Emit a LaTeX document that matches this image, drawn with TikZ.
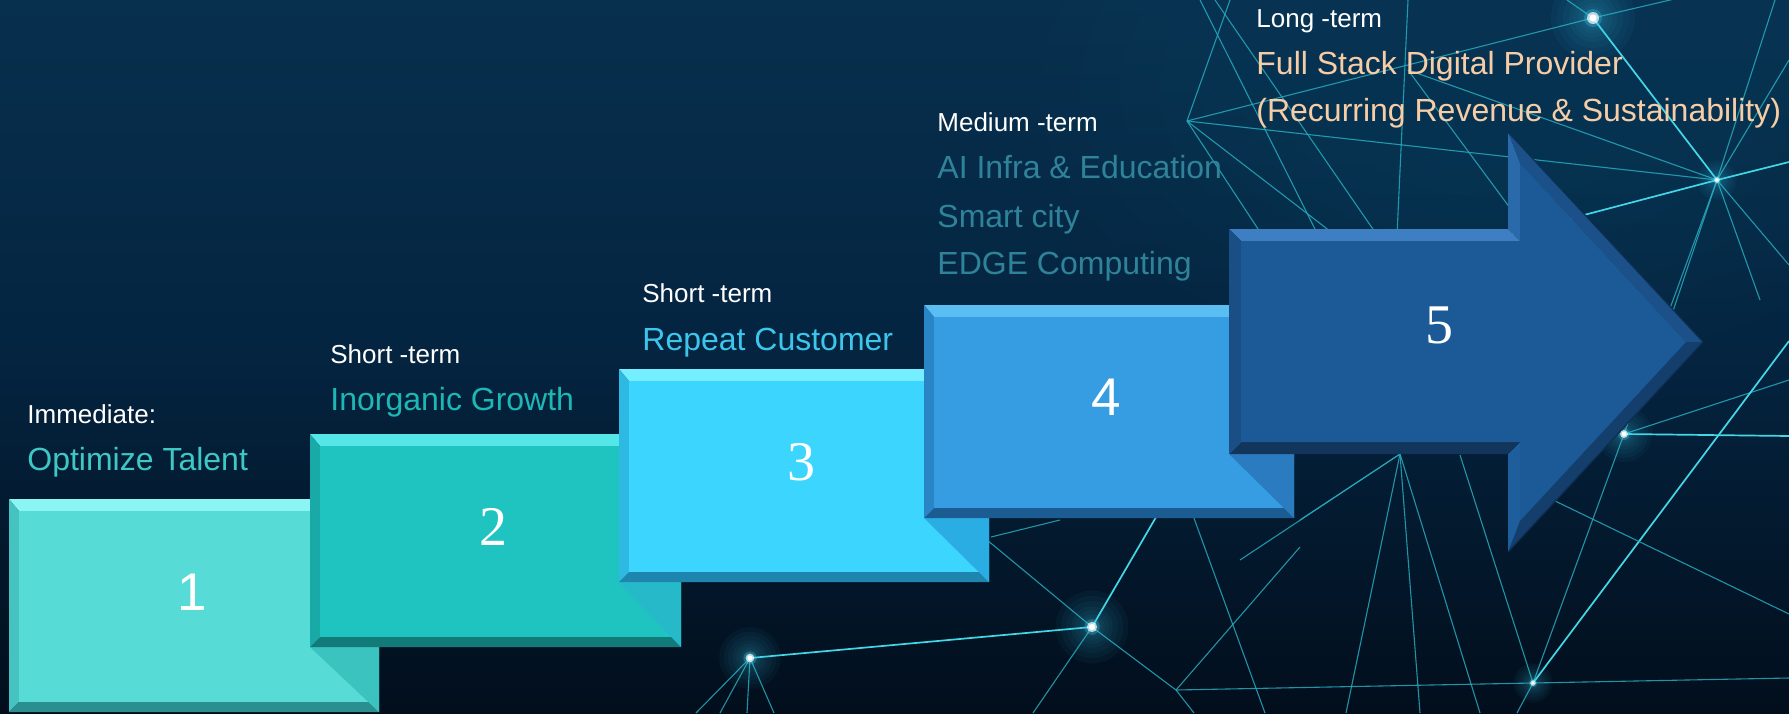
\documentclass[tikz,border=0pt]{standalone}
\usepackage{fontspec}
\setmainfont{Liberation Sans}
\newfontfamily\digitserif{Liberation Serif}
\usetikzlibrary{calc}

\definecolor{bgtop}{HTML}{07304E}
\definecolor{bgmid}{HTML}{042440}
\definecolor{bgbot}{HTML}{020E1C}
\definecolor{hazec}{HTML}{0E4E6E}
\definecolor{netc}{HTML}{27AABD}
\definecolor{netbc}{HTML}{43D8E8}
\definecolor{glowc}{HTML}{3FD0F0}
% box 1
\definecolor{aface}{HTML}{57DBD7}\definecolor{atop}{HTML}{8AF5F3}\definecolor{aleft}{HTML}{46C3C0}
\definecolor{abot}{HTML}{2A8F8E}\definecolor{aright}{HTML}{3FB8B5}\definecolor{ashadow}{HTML}{3BC3C0}
% box 2
\definecolor{bface}{HTML}{1FC3C0}\definecolor{btop}{HTML}{55E6E8}\definecolor{bleft}{HTML}{19A9A7}
\definecolor{bbot}{HTML}{137A7A}\definecolor{bright}{HTML}{18A3A2}\definecolor{bshadow}{HTML}{25B9C9}
% box 3
\definecolor{cface}{HTML}{3CD5FD}\definecolor{ctop}{HTML}{75EEFF}\definecolor{cleft}{HTML}{2DB9E2}
\definecolor{cbot}{HTML}{1E86AE}\definecolor{cright}{HTML}{2AA8D6}\definecolor{cshadow}{HTML}{2AADE2}
% box 4
\definecolor{dface}{HTML}{369DE2}\definecolor{dtop}{HTML}{5BBEF3}\definecolor{dleft}{HTML}{2A85C6}
\definecolor{dbot}{HTML}{1B5C92}\definecolor{dright}{HTML}{2A7FBE}\definecolor{dshadow}{HTML}{2A7BC0}
% arrow 5
\definecolor{eface}{HTML}{1B5A96}\definecolor{etop}{HTML}{3D7FC2}\definecolor{eheadup}{HTML}{2A6AAA}
\definecolor{ediagup}{HTML}{1C5088}\definecolor{ediagdn}{HTML}{143E6C}\definecolor{eheaddn}{HTML}{1F5E9C}
\definecolor{ebot}{HTML}{12355C}\definecolor{eleft}{HTML}{1A4F86}\definecolor{eline}{HTML}{0E2E52}
% texts
\definecolor{optc}{HTML}{3FC7C6}
\definecolor{inorgc}{HTML}{1DB7B5}
\definecolor{repc}{HTML}{3CC6EB}
\definecolor{medc}{HTML}{2F8399}
\definecolor{longc}{HTML}{F7CDA6}

\newcommand{\bevelbox}[6]{%
  \coordinate (#1nw) at (#2,#3);
  \coordinate (#1ne) at (#4,#3);
  \coordinate (#1se) at (#4,#5);
  \coordinate (#1sw) at (#2,#5);
  \coordinate (#1inw) at (#2+10,#3+12);
  \coordinate (#1ine) at (#4-10,#3+12);
  \coordinate (#1ise) at (#4-10,#5-10);
  \coordinate (#1isw) at (#2+10,#5-10);
  \fill[#6top] (#1nw) -- (#1ne) -- (#1ine) -- (#1inw) -- cycle;
  \fill[#6left] (#1nw) -- (#1inw) -- (#1isw) -- (#1sw) -- cycle;
  \fill[#6bot] (#1sw) -- (#1isw) -- (#1ise) -- (#1se) -- cycle;
  \fill[#6right] (#1ne) -- (#1se) -- (#1ise) -- (#1ine) -- cycle;
  \fill[#6face] (#1inw) rectangle (#1ise);
}
\newcommand{\glowat}[2]{%
  \foreach \gr in {14,12,10,8,6.5,5,4}{
    \fill[glowc, opacity=0.045] (#1) circle (#2*\gr pt);
  }
  \fill[glowc, opacity=0.3] (#1) circle (#2*3pt);
  \fill[white, opacity=0.7] (#1) circle (#2*2pt);
  \fill[white] (#1) circle (#2*1.2pt);
}

\tikzset{
  lbl/.style={anchor=base west, inner sep=0pt, text=white, font=\fontsize{13}{15}\selectfont},
  item/.style={anchor=base west, inner sep=0pt, font=\fontsize{16}{19}\selectfont},
  digsans/.style={anchor=base, inner sep=0pt, text=white, font=\fontsize{26.5}{30}\selectfont},
  digserif/.style={anchor=base, inner sep=0pt, text=white, font=\digitserif\fontsize{28}{32}\selectfont},
  net/.style={draw=netc, line width=0.55pt, opacity=0.85},
  netb/.style={draw=netbc, line width=0.85pt},
}

\begin{document}
\begin{tikzpicture}[x=0.5pt,y=-0.5pt]
% background
\shade[top color=bgtop, bottom color=bgbot, middle color=bgmid] (0,0) rectangle (1789,713);
\useasboundingbox (0,0) rectangle (1789,713);
\begin{scope}
\clip (0,0) rectangle (1789,713);
\foreach \r in {460,420,380,340,300,260,220,180,140}{
  \fill[hazec, opacity=0.035] (1500,90) ellipse ({\r*0.5pt} and {\r*0.3pt});
}
\end{scope}

% network coordinates
\coordinate (A) at (1187,121);
\coordinate (G1) at (1593,18);
\coordinate (G2) at (1717,180);
\coordinate (G3) at (1624,434);
\coordinate (G4) at (1092,627);
\coordinate (G5) at (750,658);
\coordinate (G6) at (1533,683);
\coordinate (H) at (1408,70);
\coordinate (B) at (1400,454);
\coordinate (C) at (1176,690);

% network lines
\draw[net] (A) -- (1230,0);
\draw[net] (A) -- (G1) -- (1683,-3);
\draw[net] (A) -- (1335,235);
\draw[net] (A) -- (1262,235);
\draw[net] (A) -- (G2);
\draw[net] (1200,0) -- (1318,235);
\draw[net] (1215,0) -- (1377,235);
\draw[net] (1408,0) -- (1397,235);
\draw[net] (H) -- (1530,235);
\draw[net] (H) -- (G2);
\draw[netb] (G1) -- (G2);
\draw[net] (G1) -- (1567,0);
\draw[net] (G2) -- (1775,0);
\draw[net] (G2) -- (1789,60);
\draw[netb] (1470,245) -- (G2) -- (1789,162);
\draw[net] (G2) -- (G3);
\draw[net] (G2) -- (1789,265);
\draw[net] (G2) -- (1760,300);
\draw[net] (G2) -- (1670,320);
\draw[netb] (G3) -- (1789,436);
\draw[net] (G3) -- (1789,380);
\draw[net] (G3) -- (G6);
\draw[netb] (G6) -- (1789,341);
\draw[net] (G6) -- (1460,455);
\draw[net] (G6) -- (1517,713);
\draw[net] (C) -- (G6) -- (1789,678);
\draw[net] (1553,500) -- (1789,614);
\draw[net] (B) -- (1346,713);
\draw[net] (B) -- (1420,713);
\draw[net] (B) -- (1480,713);
\draw[net] (B) -- (1240,560);
\draw[net] (B) -- (1300,520);
\draw[netb] (G5) -- (G4);
\draw[net] (G5) -- (696,713);
\draw[net] (G5) -- (720,713);
\draw[net] (G5) -- (747,713);
\draw[net] (G5) -- (774,713);
\draw[netb] (G4) -- (1166,500);
\draw[net] (G4) -- (1033,713);
\draw[net] (G4) -- (975,530);
\draw[net] (G4) -- (C) -- (1194,713);
\draw[net] (1191,510) -- (1265,713);
\draw[net] (1300,547) -- (C);
\draw[net] (991,537) -- (1060,520);

% glows
\glowat{G1}{1.5}
\glowat{G2}{0.7}
\glowat{G3}{1}
\glowat{G4}{1.3}
\glowat{G5}{1.1}
\glowat{G6}{0.7}

% box 1
\bevelbox{b1}{9}{499}{379}{712}{a}
\fill[ashadow] (310,647) -- (379,647) -- (379,712) -- cycle;
% box 2
\bevelbox{b2}{310}{434}{681}{647}{b}
\fill[bshadow] (619,582) -- (681,582) -- (681,647) -- cycle;
% box 3
\bevelbox{b3}{619}{369}{989}{582}{c}
\fill[cshadow] (924,518) -- (989,518) -- (989,582) -- cycle;
% box 4
\bevelbox{b4}{924}{305}{1294}{518}{d}
\fill[dshadow] (1229,454) -- (1294,454) -- (1294,518) -- cycle;

% arrow 5
\coordinate (P1) at (1229,229);
\coordinate (P2) at (1508,229);
\coordinate (P3) at (1508,132);
\coordinate (P4) at (1703,342);
\coordinate (P5) at (1508,552);
\coordinate (P6) at (1508,454);
\coordinate (P7) at (1229,454);
\coordinate (Q1) at (1241,241);
\coordinate (Q2) at (1520,241);
\coordinate (Q3) at (1520,163);
\coordinate (Q4) at (1686,342);
\coordinate (Q5) at (1520,521);
\coordinate (Q6) at (1520,442);
\coordinate (Q7) at (1241,442);
\fill[etop] (P1) -- (P2) -- (Q2) -- (Q1) -- cycle;
\fill[eheadup] (P2) -- (P3) -- (Q3) -- (Q2) -- cycle;
\fill[ediagup] (P3) -- (P4) -- (Q4) -- (Q3) -- cycle;
\fill[ediagdn] (P4) -- (P5) -- (Q5) -- (Q4) -- cycle;
\fill[eheaddn] (P5) -- (P6) -- (Q6) -- (Q5) -- cycle;
\fill[ebot] (P6) -- (P7) -- (Q7) -- (Q6) -- cycle;
\fill[eleft] (P7) -- (P1) -- (Q1) -- (Q7) -- cycle;
\fill[eface] (Q1) -- (Q2) -- (Q3) -- (Q4) -- (Q5) -- (Q6) -- (Q7) -- cycle;
\draw[eline, line width=0.6pt, line join=miter] (P3) -- (P4) -- (P5);

% digits
\node[digsans] (n1) at (192,610) {1};
\node[digserif] (n2) at (493,545) {2};
\node[digserif] (n3) at (801,480) {3};
\node[digsans] (n4) at (1106,415) {4};
\node[digserif] (n5) at (1439,343) {5};

% labels
\node[lbl] (t1a) at (27,423) {Immediate:};
\node[item, text=optc] (t1b) at (27,470) {Optimize Talent};
\node[lbl] (t2a) at (330,363) {Short -term};
\node[item, text=inorgc] (t2b) at (330,410) {Inorganic Growth};
\node[lbl] (t3a) at (642,302) {Short -term};
\node[item, text=repc] (t3b) at (642,350) {Repeat Customer};
\node[lbl] (t4a) at (937,131) {Medium -term};
\node[item, text=medc] (t4b) at (937,178) {AI Infra \& Education};
\node[item, text=medc] (t4c) at (937,227) {Smart city};
\node[item, text=medc] (t4d) at (937,274) {EDGE Computing};
\node[lbl] (t5a) at (1256,27) {Long -term};
\node[item, text=longc] (t5b) at (1256,74) {Full Stack Digital Provider};
\node[item, text=longc] (t5c) at (1256,121) {(Recurring Revenue \& Sustainability)};
\end{tikzpicture}
\end{document}
